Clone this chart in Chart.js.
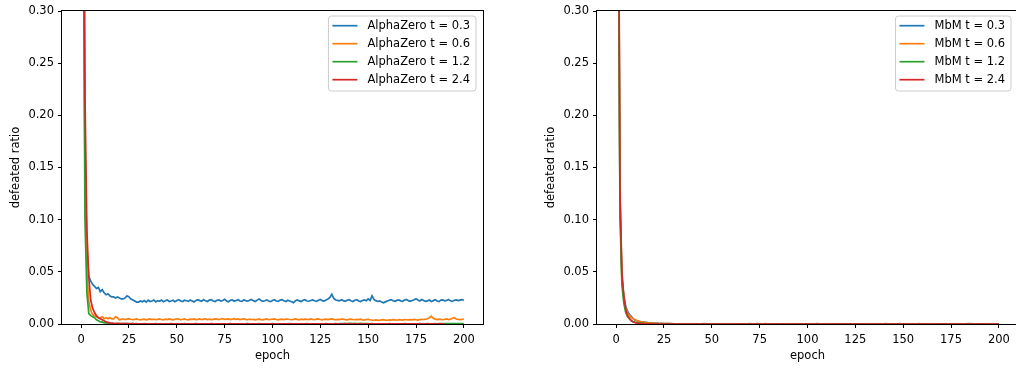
<!DOCTYPE html>
<html><head><meta charset="utf-8">
<script src="https://cdn.jsdelivr.net/npm/chart.js@4.4.1/dist/chart.umd.min.js"></script>
<style>
html,body{margin:0;padding:0;background:#fff;overflow:hidden;width:1016px;height:368px;position:relative;}
#c1{position:absolute;left:0;top:0;}
#c2{position:absolute;left:508px;top:0;}
</style></head><body>
<canvas id="c1" width="500" height="368"></canvas>
<canvas id="c2" width="520" height="368"></canvas>
<script>
// ---------- data ----------
const epochs = Array.from({length: 201}, (_, i) => i);
const xTicks = [0, 25, 50, 75, 100, 125, 150, 175, 200];
const yTicks = [0, 0.05, 0.10, 0.15, 0.20, 0.25, 0.30];
const leftNames = ['AlphaZero t = 0.3', 'AlphaZero t = 0.6', 'AlphaZero t = 1.2', 'AlphaZero t = 2.4'];
const rightNames = ['MbM t = 0.3', 'MbM t = 0.6', 'MbM t = 1.2', 'MbM t = 2.4'];

const azT03 = [
0.95,0.55,0.17,0.07,0.046,0.041,0.038,0.036,0.034,0.035,
0.031,0.033,0.030,0.028,0.029,0.027,0.026,0.026,0.025,0.026,
0.025,0.024,0.024,0.025,0.027,0.026,0.024,0.023,0.022,0.021,
0.021,
0.0220,0.0213,0.0225,0.0210,0.0228,0.0215,0.0221,0.0230,0.0212,0.0224,
0.0218,0.0229,0.0214,0.0222,0.0231,0.0216,0.0220,0.0227,0.0213,0.0225,
0.0232,0.0220,0.0215,0.0228,0.0223,0.0217,0.0230,0.0221,0.0212,0.0226,
0.0233,0.0224,0.0218,0.0235,0.0222,0.0216,0.0229,0.0234,0.0220,0.0215,
0.0228,0.0232,0.0219,0.0225,0.0236,0.0221,0.0214,0.0227,0.0230,0.0218,
0.0226,0.0233,0.0220,0.0217,0.0231,0.0224,0.0219,0.0228,0.0235,0.0222,
0.0216,0.0229,0.0240,0.0225,0.0218,0.0223,0.0230,0.0221,0.0214,0.0226,
0.0232,0.0220,0.0217,0.0229,0.0234,0.0222,0.0215,0.0228,0.0220,0.0213,
0.0205,0.0224,0.0230,0.0221,0.0216,0.0227,0.0233,0.0220,0.0218,0.0225,
0.0231,0.0223,0.0217,0.0228,0.0235,0.0224,0.0220,0.0230,0.0240,0.0255,
0.0285,0.0245,0.0230,0.0226,0.0221,0.0232,0.0224,0.0218,0.0227,0.0233,
0.0222,0.0216,0.0228,0.0234,0.0220,0.0215,0.0226,0.0231,0.0223,0.0240,
0.0225,0.0270,0.0235,0.0224,0.0216,0.0222,0.0210,0.0203,0.0212,0.0220,
0.0228,0.0234,0.0223,0.0217,0.0226,0.0230,0.0222,0.0218,0.0229,0.0235,
0.0224,0.0217,0.0225,0.0232,0.0243,0.0230,0.0221,0.0235,0.0226,0.0218,
0.0222,0.0230,0.0216,0.0224,0.0233,0.0220,0.0215,0.0229,0.0232,0.0221,
0.0226,0.0234,0.0222,0.0217,0.0228,0.0231,0.0224,0.0229,0.0233,0.0228];

const azT06 = [
0.95,0.5,0.14,0.05,0.022,0.013,0.009,0.008,0.007,0.006,
0.006,0.007,0.005,0.006,0.005,0.006,0.005,0.005,0.007,0.006,
0.004,
0.0045,0.0050,0.0042,0.0048,0.0052,0.0046,0.0041,0.0044,0.0049,0.0043,
0.0040,0.0045,0.0047,0.0039,0.0044,0.0048,0.0042,0.0046,0.0041,0.0045,
0.0049,0.0043,0.0040,0.0046,0.0042,0.0048,0.0044,0.0039,0.0045,0.0050,
0.0046,0.0041,0.0044,0.0048,0.0043,0.0040,0.0047,0.0045,0.0049,0.0042,
0.0044,0.0048,0.0041,0.0046,0.0050,0.0043,0.0047,0.0042,0.0045,0.0049,
0.0046,0.0042,0.0048,0.0052,0.0044,0.0047,0.0049,0.0043,0.0046,0.0051,
0.0045,0.0048,0.0042,0.0046,0.0050,0.0044,0.0041,0.0047,0.0043,0.0045,
0.0040,0.0044,0.0047,0.0042,0.0039,0.0045,0.0048,0.0041,0.0044,0.0046,
0.0049,0.0043,0.0040,0.0045,0.0047,0.0042,0.0046,0.0048,0.0043,0.0041,
0.0045,0.0049,0.0044,0.0040,0.0046,0.0043,0.0047,0.0045,0.0042,0.0048,
0.0044,0.0041,0.0046,0.0049,0.0043,0.0040,0.0045,0.0047,0.0042,0.0046,
0.0049,0.0044,0.0041,0.0045,0.0043,0.0048,0.0046,0.0042,0.0040,0.0044,
0.0047,0.0043,0.0041,0.0045,0.0042,0.0046,0.0040,0.0038,0.0043,0.0045,
0.0041,0.0038,0.0036,0.0040,0.0037,0.0035,0.0039,0.0042,0.0038,0.0036,
0.0040,0.0037,0.0041,0.0039,0.0036,0.0042,0.0040,0.0038,0.0043,0.0041,
0.0039,0.0042,0.0040,0.0044,0.0041,0.0038,0.0042,0.0045,0.0043,0.0046,
0.0050,0.0060,0.0075,0.0055,0.0046,0.0043,0.0047,0.0044,0.0041,0.0045,
0.0048,0.0042,0.0046,0.0055,0.0060,0.0048,0.0044,0.0042,0.0045,0.0048];

const azT12 = [
0.95,0.45,0.10,0.03,0.010,0.008,0.007,0.006,0.004,0.003,
0.002,0.002,0.001,0.001,0.0008,
0.0006,0.0005,0.0004,0.0005,0.0003,0.0004,0.0003,0.0005,0.0004,0.0003,
0.0002,0.0003,0.0004,0.0002,0.0003,0.0002,0.0001,0.0002,0.0003,0.0002,
0.0001,0.0002,0.0001,0.0002,0.0003,0.0001,0.0002,0.0001,0.0002,0.0001,
0.0002,0.0001,0.0003,0.0002,0.0001,0.0002,0.0001,0.0002,0.0001,0.0003,
0.0002,0.0001,0.0002,0.0001,0.0002,0.0003,0.0001,0.0002,0.0001,0.0002,
0.0001,0.0002,0.0001,0.0003,0.0002,0.0001,0.0002,0.0001,0.0002,0.0001,
0.0002,0.0001,0.0002,0.0003,0.0001,0.0002,0.0001,0.0002,0.0001,0.0002,
0.0001,0.0002,0.0003,0.0001,0.0002,0.0001,0.0002,0.0001,0.0003,0.0002,
0.0001,0.0002,0.0001,0.0002,0.0001,0.0003,0.0002,0.0001,0.0002,0.0001,
0.0002,0.0001,0.0002,0.0001,0.0003,0.0002,0.0001,0.0002,0.0001,0.0002,
0.0001,0.0002,0.0001,0.0003,0.0002,0.0001,0.0002,0.0001,0.0002,0.0001,
0.0002,0.0001,0.0002,0.0003,0.0001,0.0002,0.0001,0.0002,0.0003,0.0002,
0.0003,0.0004,0.0005,0.0006,0.0005,0.0007,0.0006,0.0005,0.0006,0.0004,
0.0005,0.0006,0.0004,0.0005,0.0003,0.0004,0.0002,0.0003,0.0002,0.0001,
0.0002,0.0001,0.0002,0.0001,0.0002,0.0001,0.0003,0.0002,0.0001,0.0002,
0.0001,0.0002,0.0001,0.0002,0.0003,0.0002,0.0001,0.0002,0.0001,0.0002,
0.0002,0.0001,0.0003,0.0002,0.0001,0.0002,0.0003,0.0002,0.0001,0.0002,
0.0003,0.0002,0.0004,0.0003,0.0005,0.0004,0.0003,0.0005,0.0004,0.0003,
0.0004,0.0005,0.0003,0.0004,0.0003,0.0004];

const azT24 = [
0.95,0.6,0.22,0.09,0.045,0.023,0.015,0.011,0.008,0.006,
0.005,0.004,0.003,0.002,0.0015,0.001,
0.0008,0.0006,0.0005,0.0006,0.0004,0.0005,0.0004,0.0003,0.0004,0.0003,
0.0002,0.0003,0.0002,0.0001,0.0002,0.0001,0.0002,0.0001,0.0001,0.0002,
0.0001,0.0001,0.0002,0.0001,0.0001,0.0002,0.0001,0.0001,0.0001,0.0002,
0.0001,0.0001,0.0002,0.0001,0.0001,0.0001,0.0002,0.0001,0.0001,0.0002,
0.0001,0.0001,0.0001,0.0002,0.0001,0.0001,0.0002,0.0001,0.0001,0.0001,
0.0002,0.0001,0.0001,0.0002,0.0001,0.0001,0.0001,0.0002,0.0001,0.0001,
0.0002,0.0001,0.0001,0.0001,0.0002,0.0001,0.0001,0.0002,0.0001,0.0001,
0.0001,0.0002,0.0001,0.0001,0.0002,0.0001,0.0001,0.0001,0.0002,0.0001,
0.0001,0.0002,0.0001,0.0001,0.0001,0.0002,0.0001,0.0001,0.0002,0.0001,
0.0001,0.0001,0.0002,0.0001,0.0001,0.0002,0.0001,0.0001,0.0001,0.0002,
0.0001,0.0001,0.0002,0.0001,0.0001,0.0001,0.0002,0.0001,0.0001,0.0002,
0.0001,0.0001,0.0001,0.0002,0.0001,0.0001,0.0002,0.0001,0.0001,0.0001,
0.0002,0.0001,0.0001,0.0002,0.0001,0.0001,0.0001,0.0002,0.0001,0.0001,
0.0002,0.0001,0.0001,0.0001,0.0002,0.0001,0.0001,0.0002,0.0001,0.0001,
0.0001,0.0002,0.0001,0.0001,0.0002,0.0001,0.0001,0.0001,0.0002,0.0001,
0.0001,0.0002,0.0001,0.0001,0.0001,0.0002,0.0001,0.0001,0.0002,0.0001,
0.0001,0.0001,0.0002,0.0001,0.0001,0.0002,0.0001,0.0001,0.0001,0.0002,
0.0001,0.0001,0.0002,0.0001,0.0001];

const mbmT03 = [
0.95,0.5,0.12,0.046,0.027,0.017,0.012,0.009,0.007,0.005,
0.0035,0.003,0.0025,0.002,0.002,0.0015,0.0015,0.0012,0.001,0.001,
0.0008,0.0008,0.0007,0.0006,0.0006,0.0005,0.0005,0.0004,0.0003,0.0003,
0.0002,0.0001,0.0002,0.0001,0,0.0002,0.0001,0,0.0001,0.0002,
0.0001,0,0.0002,0.0001,0,0.0001,0.0003,0.0001,0,0.0001,
0.0002,0,0.0001,0.0002,0.0001,0,0.0001,0.0002,0,0.0001,
0,0.0001,0.0002,0,0.0001,0.0001,0,0.0002,0.0001,0,
0.0001,0.0002,0,0.0001,0.0003,0.0001,0,0.0001,0.0002,0,
0.0001,0,0.0002,0.0001,0,0.0001,0.0002,0.0001,0,0.0001,
0.0002,0.0001,0,0.0001,0.0002,0,0.0001,0,0.0002,0.0001,
0,0.0001,0.0002,0,0.0001,0.0003,0.0001,0,0.0001,0.0002,
0.0001,0,0.0001,0.0002,0,0.0001,0.0002,0.0001,0,0.0001,
0.0002,0,0.0001,0.0001,0,0.0002,0.0001,0,0.0001,0.0002,
0.0001,0,0.0002,0.0001,0,0.0001,0.0002,0,0.0001,0.0001,
0,0.0002,0.0001,0,0.0001,0.0002,0.0001,0,0.0003,0.0001,
0.0001,0,0.0002,0.0001,0,0.0001,0.0002,0,0.0001,0.0002,
0,0.0001,0.0002,0.0001,0,0.0001,0.0002,0,0.0001,0,
0.0002,0.0001,0,0.0001,0.0002,0,0.0001,0.0002,0.0001,0,
0.0001,0.0002,0,0.0001,0.0003,0.0001,0,0.0001,0.0002,0.0001,
0,0.0001,0.0002,0,0.0001,0.0002,0.0001,0,0.0001,0.0002,
0.0001];

const mbmT06 = [
0.95,0.5,0.12,0.044,0.025,0.015,0.010,0.008,0.006,0.005,
0.004,0.003,0.0025,0.002,0.0015,0.0015,0.001,0.001,0.0009,0.0008,
0.0007,0.0006,0.0006,0.0005,0.0005,0.0004,0.0004,0.0003,0.0003,0.0002,
0.0001,0.0002,0,0.0001,0.0002,0,0.0001,0.0001,0,0.0002,
0,0.0001,0.0002,0,0.0001,0,0.0002,0.0001,0,0.0001,
0.0001,0,0.0002,0.0001,0,0.0001,0,0.0002,0.0001,0,
0.0002,0.0001,0,0.0001,0.0002,0,0.0001,0,0.0001,0.0002,
0,0.0001,0.0001,0,0.0002,0.0001,0,0.0001,0.0003,0.0001,
0.0001,0,0.0002,0.0001,0,0.0001,0.0001,0,0.0002,0,
0.0001,0.0002,0,0.0001,0,0.0002,0.0001,0,0.0001,0.0001,
0,0.0002,0.0001,0,0.0001,0,0.0002,0.0001,0,0.0001,
0.0002,0,0.0001,0.0001,0,0.0002,0.0001,0,0.0001,0,
0.0001,0.0002,0,0.0001,0.0002,0,0.0001,0,0.0002,0.0001,
0,0.0001,0.0001,0,0.0002,0.0001,0,0.0001,0.0002,0,
0.0001,0,0.0002,0.0001,0,0.0001,0.0001,0,0.0002,0.0001,
0,0.0001,0.0002,0,0.0001,0,0.0002,0.0001,0,0.0001,
0.0002,0,0.0001,0.0001,0,0.0002,0.0001,0,0.0001,0.0002,
0,0.0001,0,0.0002,0.0001,0,0.0001,0.0001,0,0.0002,
0.0001,0,0.0001,0.0002,0,0.0001,0.0002,0,0.0001,0.0001,
0,0.0002,0.0001,0,0.0001,0.0002,0,0.0001,0.0001,0,
0.0001];

const mbmT12 = [
0.95,0.45,0.105,0.038,0.020,0.011,0.007,0.005,0.003,0.002,
0.0015,0.001,0.001,0.0008,0.0006,0.0005,0.0004,0.0003,0.0003,0.0002,
0.0001,0,0.0001,0.0002,0,0.0001,0,0.0001,0.0002,0,
0.0001,0,0.0002,0.0001,0,0.0001,0,0.0001,0.0002,0,
0.0001,0.0001,0,0.0002,0.0001,0,0.0001,0,0.0001,0.0002,
0,0.0001,0,0.0002,0.0001,0,0.0001,0.0001,0,0.0002,
0.0001,0,0.0001,0,0.0002,0.0001,0,0.0001,0,0.0001,
0.0003,0.0001,0,0.0001,0.0002,0,0.0001,0,0.0001,0.0002,
0,0.0001,0.0001,0,0.0002,0.0001,0,0.0001,0,0.0001,
0.0002,0,0.0001,0,0.0002,0.0001,0,0.0001,0.0001,0,
0.0002,0.0001,0,0.0001,0,0.0001,0.0002,0,0.0001,0,
0.0002,0.0001,0,0.0001,0.0001,0,0.0002,0.0001,0,0.0001,
0,0.0001,0.0002,0,0.0001,0,0.0002,0.0001,0,0.0001,
0.0001,0,0.0002,0.0001,0,0.0001,0,0.0001,0.0002,0,
0.0001,0.0003,0.0001,0,0.0001,0.0002,0,0.0001,0,0.0001,
0.0002,0,0.0001,0.0001,0,0.0002,0.0001,0,0.0003,0.0001,
0,0.0001,0.0002,0,0.0001,0,0.0001,0.0002,0,0.0001,
0.0001,0,0.0002,0.0001,0,0.0001,0,0.0001,0.0002,0,
0.0001,0.0002,0,0.0001,0,0.0003,0.0001,0,0.0001,0.0002,
0,0.0001,0.0001,0,0.0002,0.0001,0,0.0001,0,0.0001,
0.0001];

const mbmT24 = [
0.95,0.55,0.13,0.05,0.027,0.014,0.008,0.005,0.003,0.002,
0.0012,0.0008,0.0005,0.0004,0.0003,0.0003,0.0002,0.0002,0.0001,0.0001,
0,0.0001,0,0,0.0001,0,0,0.0001,0,0,
0.0001,0,0,0.0001,0,0,0.0001,0,0,0.0001,
0,0,0.0001,0,0,0.0001,0,0,0.0001,0,
0,0.0001,0,0,0.0001,0,0,0.0001,0,0,
0.0001,0,0,0.0001,0,0,0.0001,0,0,0.0001,
0,0,0.0001,0,0,0.0001,0,0,0.0001,0,
0,0.0001,0,0,0.0001,0,0,0.0001,0,0,
0.0001,0,0,0.0001,0,0,0.0001,0,0,0.0001,
0,0,0.0001,0,0,0.0001,0,0,0.0001,0,
0,0.0001,0,0,0.0001,0,0,0.0001,0,0,
0.0001,0,0,0.0001,0,0,0.0001,0,0,0.0001,
0,0,0.0001,0,0,0.0001,0,0,0.0001,0,
0,0.0001,0,0,0.0001,0,0,0.0001,0,0,
0.0001,0,0,0.0001,0,0,0.0001,0,0,0.0001,
0,0,0.0001,0,0,0.0001,0,0,0.0001,0,
0,0.0001,0,0,0.0001,0,0,0.0001,0,0,
0.0001,0,0,0.0001,0,0,0.0001,0,0,0.0001,
0,0,0.0001,0,0,0.0001,0,0,0.0001,0,
0];

// ---------- styling ----------
const COLORS = ['#1f77b4', '#ff7f0e', '#2ca02c', '#d62728'];
const FONT = {family: '"DejaVu Sans", sans-serif', size: 11.5};

function pts(vals) { return vals.map((v, i) => ({x: epochs[i], y: v})); }

const framePlugin = {
  id: 'frame',
  afterDatasetsDraw(chart) {
    const {ctx, chartArea: a} = chart;
    ctx.save();
    ctx.strokeStyle = '#000';
    ctx.lineWidth = 1;
    ctx.strokeRect(Math.round(a.left) - 0.5, Math.round(a.top) - 0.5,
                   Math.round(a.right - a.left) + 1, Math.round(a.bottom - a.top) + 1);
    ctx.restore();
  }
};

const legendPlugin = {
  id: 'mplLegend',
  afterDraw(chart, args, opts) {
    const {ctx, chartArea: a} = chart;
    const names = opts.names;
    ctx.save();
    ctx.font = '11.5px "DejaVu Sans"';
    const tw = Math.max(...names.map(n => ctx.measureText(n).width));
    const w = 4 + 25 + 10 + tw + 6;
    const right = a.right - 7;
    const left = right - w;
    const top = a.top + 5;
    const h = 75;
    const r = 3;
    ctx.beginPath();
    ctx.moveTo(left + r, top);
    ctx.arcTo(right, top, right, top + h, r);
    ctx.arcTo(right, top + h, left, top + h, r);
    ctx.arcTo(left, top + h, left, top, r);
    ctx.arcTo(left, top, right, top, r);
    ctx.closePath();
    ctx.fillStyle = 'rgba(255,255,255,0.8)';
    ctx.fill();
    ctx.strokeStyle = '#cccccc';
    ctx.lineWidth = 1;
    ctx.stroke();
    names.forEach((n, i) => {
      const y = top + 9.7 + i * 18;
      ctx.strokeStyle = COLORS[i];
      ctx.lineWidth = 1.7;
      ctx.beginPath();
      ctx.moveTo(left + 4, y);
      ctx.lineTo(left + 29, y);
      ctx.stroke();
      ctx.fillStyle = '#000';
      ctx.textBaseline = 'middle';
      ctx.textAlign = 'left';
      ctx.fillText(n, left + 39, y);
    });
    ctx.restore();
  }
};

function makeChart(id, series, names, yWidth, rightPad, yTitlePad) {
  const datasets = series.map((s, i) => ({
    label: names[i],
    data: pts(s),
    borderColor: COLORS[i],
    backgroundColor: COLORS[i],
    borderWidth: 1.7,
    pointRadius: 0,
    tension: 0,
    fill: false,
    clip: 0,
    order: 3 - i
  }));
  return new Chart(document.getElementById(id), {
    type: 'line',
    data: {datasets},
    plugins: [framePlugin, legendPlugin],
    options: {
      responsive: false,
      devicePixelRatio: 1,
      animation: false,
      layout: {padding: {top: 11, right: rightPad, bottom: 0, left: 0}},
      plugins: {
        legend: {display: false},
        tooltip: {enabled: false},
        mplLegend: {names}
      },
      scales: {
        x: {
          type: 'linear',
          min: -10, max: 210,
          afterBuildTicks: s => { s.ticks = xTicks.map(v => ({value: v})); },
          afterFit: s => { s.height = 44; },
          ticks: {color: '#000', font: FONT, padding: 5, maxRotation: 0,
                  callback: v => String(v)},
          grid: {display: true, drawOnChartArea: false, drawTicks: true, tickLength: 4,
                 tickWidth: 1, tickColor: '#000'},
          border: {display: false},
          title: {display: true, text: 'epoch', color: '#000', font: FONT,
                  padding: {top: 0, bottom: 5}}
        },
        y: {
          type: 'linear',
          min: 0, max: 0.30,
          afterBuildTicks: s => { s.ticks = yTicks.map(v => ({value: v})); },
          afterFit: s => { s.width = yWidth; },
          ticks: {color: '#000', font: FONT, padding: 4,
                  callback: v => Number(v).toFixed(2)},
          grid: {display: true, drawOnChartArea: false, drawTicks: true, tickLength: 4,
                 tickWidth: 1, tickColor: '#000'},
          border: {display: false},
          title: {display: true, text: 'defeated ratio', color: '#000', font: FONT,
                  padding: {top: yTitlePad, bottom: 0}}
        }
      }
    }
  });
}

makeChart('c1', [azT03, azT06, azT12, azT24], leftNames, 62, 17, 9);
makeChart('c2', [mbmT03, mbmT06, mbmT12, mbmT24], rightNames, 89, 10, 36);
</script>
</body></html>
